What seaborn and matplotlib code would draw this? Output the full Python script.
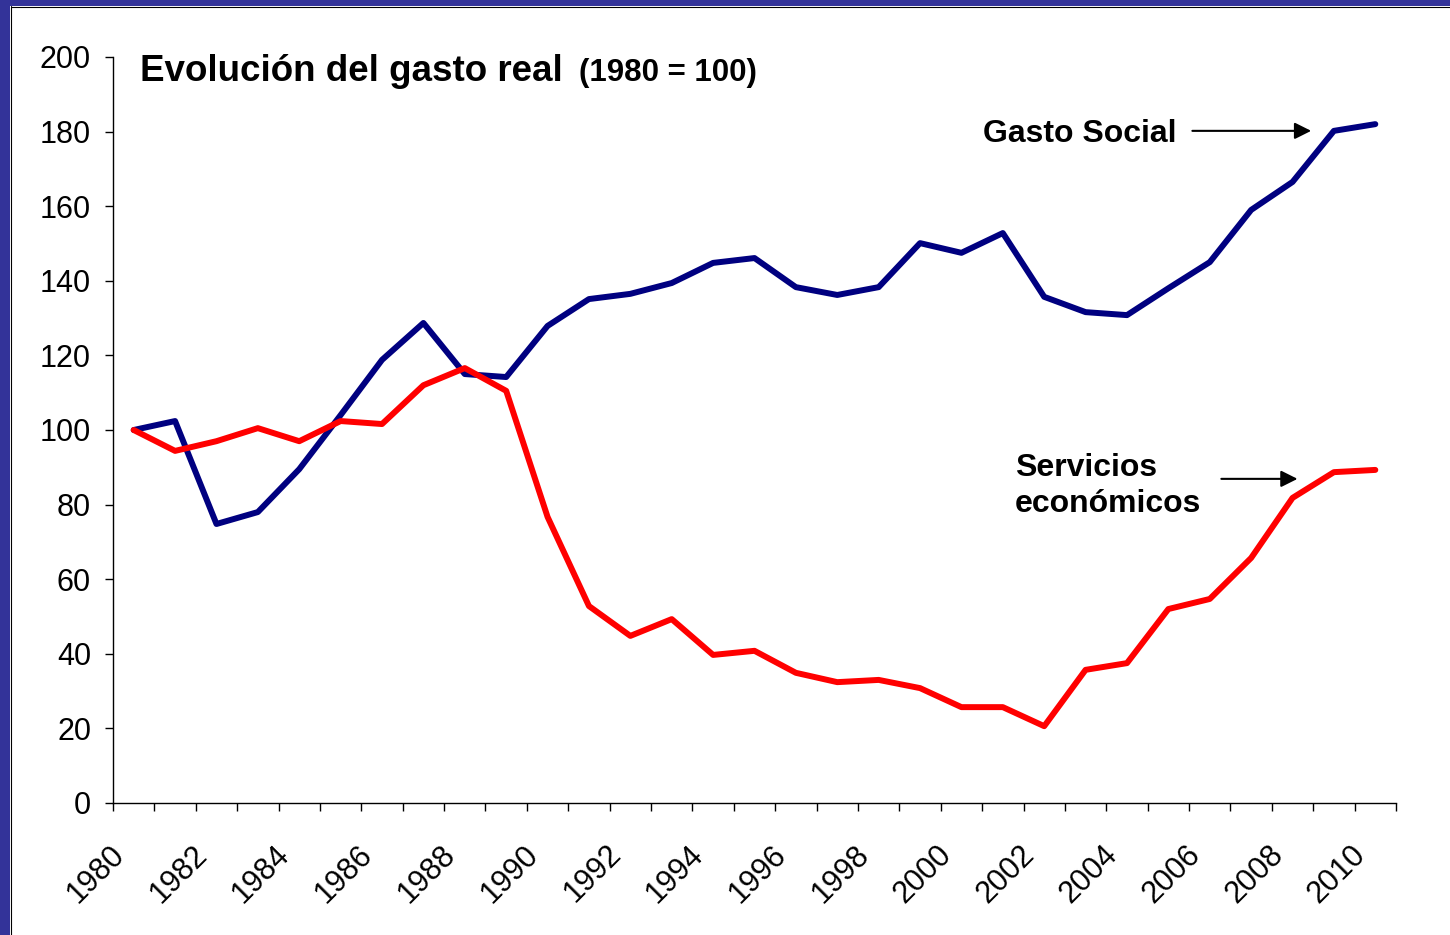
import pandas as pd
import numpy as np
import matplotlib
matplotlib.use('Agg')
import matplotlib.pyplot as plt
import matplotlib.transforms as mtransforms
from matplotlib.patches import Rectangle
from matplotlib.ticker import FixedLocator, MultipleLocator
import seaborn as sns

years = list(range(1980, 2011))
gasto_social = [100, 102.4, 74.8, 78, 89.5, 104, 118.8, 128.7, 115, 114.2,
                127.9, 135.1, 136.5, 139.4, 144.8, 146.1, 138.3, 136.2, 138.3, 150.1,
                147.5, 152.8, 135.7, 131.6, 130.8, 138, 145, 159, 166.5, 180.2, 182]
servicios = [100, 94.4, 97, 100.5, 97, 102.4, 101.6, 112, 116.6, 110.5,
             76.7, 52.8, 44.8, 49.3, 39.7, 40.8, 34.9, 32.4, 33, 30.8,
             25.7, 25.7, 20.6, 35.7, 37.5, 52, 54.7, 65.7, 81.8, 88.7, 89.3]
series_names = ['Gasto Social', 'Servicios económicos']
tick_years = [str(y) for y in years[::2]]

df = pd.DataFrame({
    'idx': list(range(len(years))) * 2,
    'valor': gasto_social + servicios,
    'serie': [series_names[0]] * len(years) + [series_names[1]] * len(years),
})

sns.set_style('white', {'text.color': 'black', 'axes.labelcolor': 'black',
                        'xtick.color': 'black', 'ytick.color': 'black'})
plt.rcParams['font.family'] = ['Liberation Sans', 'DejaVu Sans']

fig = plt.figure(figsize=(14.5, 9.35), dpi=100)
ax = fig.add_axes([113 / 1450, 1 - 803 / 935, (1396 - 113) / 1450, (803 - 57) / 935])

sns.lineplot(data=df, x='idx', y='valor', hue='serie',
             palette=['#000080', '#FF0000'], linewidth=4.3,
             legend=False, ax=ax, solid_capstyle='round')

ax.set_xlim(-0.5, len(years) - 0.5)
ax.set_ylim(0, 200)
ax.yaxis.set_major_locator(MultipleLocator(20))
ax.set_xlabel('')
ax.set_ylabel('')

# category axis: ticks on the boundaries, labels on the centres
ax.xaxis.set_minor_locator(FixedLocator(np.arange(-0.5, len(years), 1)))
ax.set_xticks(range(0, len(years), 2))
ax.set_xticklabels(tick_years, rotation=45, ha='right', va='center',
                   rotation_mode='anchor', fontsize=22, color='black')
ax.tick_params(axis='x', which='major', length=0, pad=0)
ax.tick_params(axis='x', which='minor', length=5.8, width=1, color='black',
               direction='out', bottom=True)
ax.tick_params(axis='y', length=5.8, width=1, color='black', direction='out',
               left=True, labelsize=22, labelcolor='black', pad=10)
offset = mtransforms.ScaledTranslation(-0.14, -0.47, fig.dpi_scale_trans)
for lab in ax.get_xticklabels():
    lab.set_transform(lab.get_transform() + offset)

for s in ['top', 'right']:
    ax.spines[s].set_visible(False)
for s in ['left', 'bottom']:
    ax.spines[s].set_color('black')
    ax.spines[s].set_linewidth(1)

# title
ax.text(0.021, 0.968, 'Evolución del gasto real', transform=ax.transAxes,
        fontsize=26.5, fontweight='bold', ha='left', va='baseline', color='black')
ax.text(0.363, 0.968, '(1980 = 100)', transform=ax.transAxes,
        fontsize=22.5, fontweight='bold', ha='left', va='baseline', color='black')

# labels with arrows
ax.text(25.2, 177.2, 'Gasto Social', fontsize=23, fontweight='bold',
        ha='right', va='baseline', color='black')
ax.annotate('', xy=(28.45, 180.2), xytext=(25.58, 180.2),
            arrowprops=dict(arrowstyle='-|>', color='black', lw=1.5,
                            mutation_scale=25, shrinkA=0, shrinkB=0))
ax.text(21.3, 87.7, 'Servicios', fontsize=23, fontweight='bold',
        ha='left', va='baseline', color='black')
ax.text(21.3, 78.0, 'económicos', fontsize=23, fontweight='bold',
        ha='left', va='baseline', color='black')
ax.annotate('', xy=(28.12, 86.9), xytext=(26.28, 86.9),
            arrowprops=dict(arrowstyle='-|>', color='black', lw=1.5,
                            mutation_scale=25, shrinkA=0, shrinkB=0))

# slide frame
fig.patches.append(Rectangle((0, 0), 10 / 1450, 1, transform=fig.transFigure,
                             facecolor='#333399', edgecolor='none', zorder=0))
fig.patches.append(Rectangle((0, 1 - 6 / 935), 1, 6 / 935, transform=fig.transFigure,
                             facecolor='#333399', edgecolor='none', zorder=0))
fig.add_artist(plt.Line2D([10.5 / 1450, 10.5 / 1450], [0, 1 - 6 / 935],
                          transform=fig.transFigure, color='black', lw=0.8))
fig.add_artist(plt.Line2D([10.5 / 1450, 1], [1 - 6.5 / 935, 1 - 6.5 / 935],
                          transform=fig.transFigure, color='black', lw=0.8))

fig.savefig('out.png', dpi=100)
